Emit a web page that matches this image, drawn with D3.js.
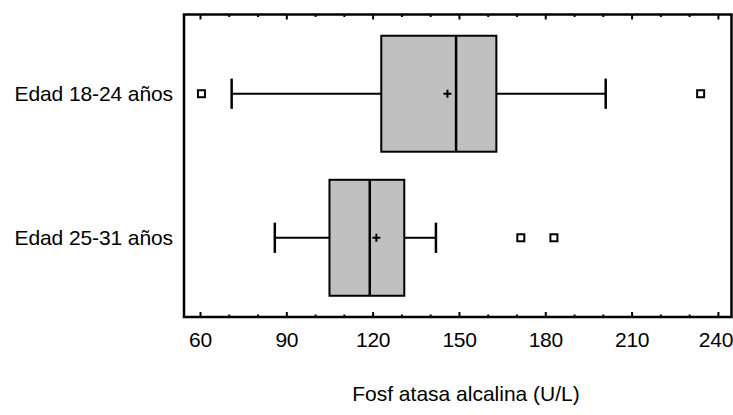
<!DOCTYPE html>
<html>
<head>
<meta charset="utf-8">
<script src="https://cdn.jsdelivr.net/npm/d3@7"></script>
<style>
  body { margin: 0; background: #fff; }
  text { font-family: "Liberation Sans", Arial, sans-serif; fill: #000; }
</style>
</head>
<body>
<svg id="vis-svg"></svg>
<script>
// box plot values
var groups = ["Edad 18-24 años", "Edad 25-31 años"];
var whiskerLow = [71, 86];
var q1 = [123, 105];
var median = [149, 119];
var q3 = [163, 131];
var whiskerHigh = [201, 142];
var means = [146, 121.3];
var outliers = [[60.5, 234], [171.5, 183]];
var majorTicks = [60, 90, 120, 150, 180, 210, 240];
var minorTicks = [70, 80, 100, 110, 130, 140, 160, 170, 190, 200, 220, 230];
var xTitle = "Fosf atasa alcalina (U/L)";

var width = 733;
var height = 415;
var margin = {top: 14.5, bottom: 98, left: 184, right: 1};

var svg = d3.select('#vis-svg')
  .attr('width', width)
  .attr('height', height);

var xScale = d3.scaleLinear()
  .domain([54.44, 244.9])
  .range([margin.left, width - margin.right]);

var yScale = d3.scalePoint()
  .domain(groups)
  .range([margin.top, height - margin.bottom])
  .padding(0.55);

var step = yScale.step();
var boxH = step * 0.805;
var capH = step * 0.21;

var data = groups.map(function(g, i) {
  return {
    group: g, lo: whiskerLow[i], q1: q1[i], med: median[i], q3: q3[i],
    hi: whiskerHigh[i], mean: means[i], out: outliers[i]
  };
});

var plotBottom = height - margin.bottom;

// bottom axis with inward ticks
var bottomAxis = svg.append('g')
  .attr('transform', `translate(0,${plotBottom})`);
bottomAxis.call(d3.axisBottom(xScale).tickValues(majorTicks).tickSizeInner(-5).tickSizeOuter(0).tickPadding(15))
  .call(function(g) { g.select('.domain').remove(); })
  .selectAll('text')
  .attr('font-size', 21)
  .style('font-family', '"Liberation Sans", Arial, sans-serif')
  .attr('letter-spacing', -0.3);
// last label sits against the right edge, as in the original
bottomAxis.selectAll('.tick text')
  .filter(function(d) { return d === majorTicks[majorTicks.length - 1]; })
  .attr('text-anchor', 'end')
  .attr('x', width - xScale(majorTicks[majorTicks.length - 1]) - 0.5);
bottomAxis.append('g')
  .call(d3.axisBottom(xScale).tickValues(minorTicks).tickSizeInner(-2.5).tickSizeOuter(0).tickFormat(''))
  .call(function(g) { g.select('.domain').remove(); });
bottomAxis.selectAll('line').attr('stroke', '#000').attr('stroke-width', 2);

// top axis with inward ticks, no labels
var topAxis = svg.append('g')
  .attr('transform', `translate(0,${margin.top})`);
topAxis.call(d3.axisTop(xScale).tickValues(majorTicks).tickSizeInner(-5).tickSizeOuter(0).tickFormat(''))
  .call(function(g) { g.select('.domain').remove(); });
topAxis.append('g')
  .call(d3.axisTop(xScale).tickValues(minorTicks).tickSizeInner(-2.5).tickSizeOuter(0).tickFormat(''))
  .call(function(g) { g.select('.domain').remove(); });
topAxis.selectAll('line').attr('stroke', '#000').attr('stroke-width', 2);

// frame
svg.append('rect')
  .attr('x', xScale.range()[0])
  .attr('y', margin.top)
  .attr('width', xScale.range()[1] - xScale.range()[0] - 0.5)
  .attr('height', plotBottom - margin.top)
  .attr('fill', 'none')
  .attr('stroke', '#000')
  .attr('stroke-width', 2.5);

// category labels
svg.selectAll('.cat')
  .data(groups)
  .enter()
  .append('text')
  .attr('class', 'cat')
  .attr('x', 173)
  .attr('y', function(d) { return yScale(d); })
  .attr('dy', '0.35em')
  .attr('text-anchor', 'end')
  .attr('font-size', 21)
  .attr('letter-spacing', -0.1)
  .text(function(d) { return d; });

// whiskers
var box = svg.selectAll('.box')
  .data(data)
  .enter()
  .append('g')
  .attr('class', 'box');

box.append('line')
  .attr('x1', function(d) { return xScale(d.lo); })
  .attr('x2', function(d) { return xScale(d.q1); })
  .attr('y1', function(d) { return yScale(d.group); })
  .attr('y2', function(d) { return yScale(d.group); })
  .attr('stroke', '#000').attr('stroke-width', 2);
box.append('line')
  .attr('x1', function(d) { return xScale(d.q3); })
  .attr('x2', function(d) { return xScale(d.hi); })
  .attr('y1', function(d) { return yScale(d.group); })
  .attr('y2', function(d) { return yScale(d.group); })
  .attr('stroke', '#000').attr('stroke-width', 2);
['lo', 'hi'].forEach(function(k) {
  box.append('line')
    .attr('x1', function(d) { return xScale(d[k]); })
    .attr('x2', function(d) { return xScale(d[k]); })
    .attr('y1', function(d) { return yScale(d.group) - capH / 2; })
    .attr('y2', function(d) { return yScale(d.group) + capH / 2; })
    .attr('stroke', '#000').attr('stroke-width', 2.5);
});

// boxes
box.append('rect')
  .attr('x', function(d) { return xScale(d.q1); })
  .attr('y', function(d) { return yScale(d.group) - boxH / 2; })
  .attr('width', function(d) { return xScale(d.q3) - xScale(d.q1); })
  .attr('height', boxH)
  .attr('fill', '#c0c0c0')
  .attr('stroke', '#000')
  .attr('stroke-width', 2);

// median
box.append('line')
  .attr('x1', function(d) { return xScale(d.med); })
  .attr('x2', function(d) { return xScale(d.med); })
  .attr('y1', function(d) { return yScale(d.group) - boxH / 2; })
  .attr('y2', function(d) { return yScale(d.group) + boxH / 2; })
  .attr('stroke', '#000').attr('stroke-width', 2.5);

// mean cross
box.append('path')
  .attr('d', function(d) {
    var cx = xScale(d.mean), cy = yScale(d.group);
    return `M${cx - 4},${cy}H${cx + 4}M${cx},${cy - 4}V${cy + 4}`;
  })
  .attr('stroke', '#000').attr('stroke-width', 2);

// outliers
box.selectAll('.out')
  .data(function(d) { return d.out.map(function(v) { return {v: v, group: d.group}; }); })
  .enter()
  .append('rect')
  .attr('class', 'out')
  .attr('x', function(d) { return xScale(d.v) - 3.5; })
  .attr('y', function(d) { return yScale(d.group) - 3.5; })
  .attr('width', 7)
  .attr('height', 7)
  .attr('fill', '#fff')
  .attr('stroke', '#000')
  .attr('stroke-width', 2);

// axis title
svg.append('text')
  .attr('x', (xScale.range()[0] + xScale.range()[1]) / 2 + 8)
  .attr('y', 401)
  .attr('text-anchor', 'middle')
  .attr('font-size', 21)
  .text(xTitle);
</script>
</body>
</html>
